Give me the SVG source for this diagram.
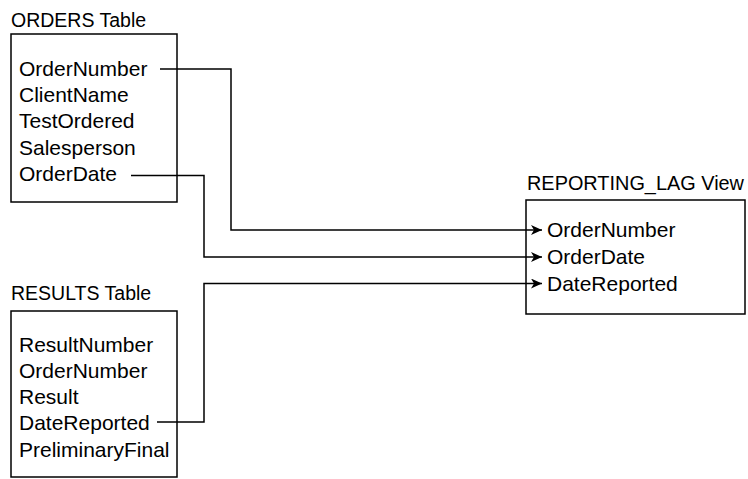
<svg xmlns="http://www.w3.org/2000/svg" width="748" height="479" viewBox="0 0 748 479">
<style>
text{font-family:"Liberation Sans",Arial,sans-serif;font-size:21px;fill:#000}
text.title{font-size:19.5px}
.box{fill:#fff;stroke:#000;stroke-width:1.5}
.conn{fill:none;stroke:#000;stroke-width:1.5}
</style>
<defs>
<marker id="arr" markerWidth="12" markerHeight="10" refX="11" refY="5" orient="auto" markerUnits="userSpaceOnUse">
<path d="M0,0 L11,5 L0,10 L3,5 Z" fill="#000"/>
</marker>
</defs>
<g id="orders">
<text class="title" x="11" y="27">ORDERS Table</text>
<rect class="box" x="11" y="34" width="166" height="168"/>
<text x="19" y="76">OrderNumber</text>
<text x="19" y="102">ClientName</text>
<text x="19" y="128">TestOrdered</text>
<text x="19" y="154.5">Salesperson</text>
<text x="19" y="181">OrderDate</text>
</g>
<g id="results">
<text class="title" x="11" y="300">RESULTS Table</text>
<rect class="box" x="11" y="311" width="166" height="166"/>
<text x="19" y="352">ResultNumber</text>
<text x="19" y="378">OrderNumber</text>
<text x="19" y="404">Result</text>
<text x="19" y="430">DateReported</text>
<text x="19" y="456.5">PreliminaryFinal</text>
</g>
<g id="reporting_lag">
<text class="title" x="527" y="190" textLength="217" lengthAdjust="spacingAndGlyphs">REPORTING_LAG View</text>
<rect class="box" x="526" y="200" width="219" height="114"/>
<text x="547" y="237">OrderNumber</text>
<text x="547" y="264">OrderDate</text>
<text x="547" y="290.5">DateReported</text>
</g>
<g id="connectors">
<polyline class="conn" points="160,69 231,69 231,230 542,230" marker-end="url(#arr)"/>
<polyline class="conn" points="131,175.5 204,175.5 204,257 542,257" marker-end="url(#arr)"/>
<polyline class="conn" points="157,422 204,422 204,283.5 542,283.5" marker-end="url(#arr)"/>
</g>
</svg>
